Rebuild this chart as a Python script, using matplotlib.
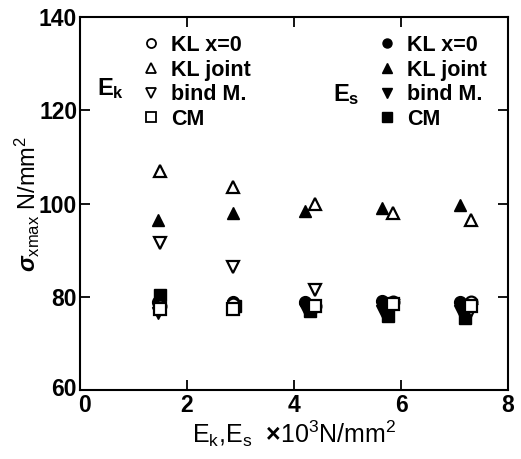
import matplotlib; matplotlib.use("Agg")
import numpy as np, matplotlib.pyplot as plt
import matplotlib.transforms as mtransforms
from matplotlib.lines import Line2D

plt.rcParams["font.family"] = ["Liberation Sans", "DejaVu Sans"]
plt.rcParams["font.weight"] = "bold"
plt.rcParams["mathtext.fontset"] = "custom"
plt.rcParams["mathtext.rm"] = "Liberation Sans:bold"
plt.rcParams["mathtext.it"] = "Liberation Sans:italic:bold"

# E_k series (open markers) and E_s series (filled markers)
xk = [1.5, 2.85, 4.4, 5.85, 7.3]
xs = [1.45, 2.85, 4.2, 5.65, 7.1]
xs_cm = [1.5, 2.9, 4.3, 5.75, 7.2]
k_x0 = [78.0, 78.5, 78.0, 79.0, 79.0]
k_joint = [107.0, 103.5, 100.0, 98.0, 96.5]
k_bind = [91.5, 86.5, 81.5, 78.0, 77.0]
k_cm = [77.5, 77.5, 78.0, 78.5, 78.0]
s_x0 = [79.0, 79.0, 79.0, 79.2, 78.8]
s_joint = [96.5, 98.0, 98.5, 99.0, 99.7]
s_bind = [76.5, 78.0, 77.5, 77.0, 77.0]
s_cm = [80.5, 78.0, 77.0, 76.0, 75.5]
labels = ["KL x=0", "KL joint", "bind M.", "CM"]
markers = ["o", "^", "v", "s"]

fig = plt.figure(figsize=(5.21, 4.59), dpi=100)
ax = fig.add_axes([0.1536, 0.150, 0.8215, 0.813])

ms = 8.5
for y, m in zip([s_x0, s_joint, s_bind], markers[:3]):
    ax.plot(xs, y, m, color="k", ms=ms, ls="none")
ax.plot(xs_cm, s_cm, "s", color="k", ms=ms, ls="none")
for y, m in zip([k_x0, k_joint, k_bind, k_cm], markers):
    ax.plot(xk, y, m, mfc="white", mec="k", mew=1.6, ms=ms, ls="none")

ax.set_xlim(0, 8); ax.set_ylim(60, 140)
ax.set_xticks([0, 2, 4, 6, 8]); ax.set_yticks([60, 80, 100, 120, 140])
ax.tick_params(direction="in", length=7, width=1.3, labelsize=16.5, top=True, right=True, pad=2)
ax.tick_params(axis="x", pad=3)
for sp in ax.spines.values():
    sp.set_linewidth(1.5)
# nudge the "0" on x and "60" on y apart, as they nearly touch in the original
ax.get_xticklabels()[0].set_transform(ax.get_xticklabels()[0].get_transform()
                                      + mtransforms.ScaledTranslation(4 / 100, 0, fig.dpi_scale_trans))
ax.get_yticklabels()[0].set_transform(ax.get_yticklabels()[0].get_transform()
                                      + mtransforms.ScaledTranslation(-1 / 100, 3 / 100, fig.dpi_scale_trans))
ax.set_xlabel(r"E$_{\mathregular{k}}$,E$_{\mathregular{s}}$  $\times$10$^{\mathregular{3}}$N/mm$^{\mathregular{2}}$",
              fontsize=18, labelpad=1)
ax.set_ylabel(r"$\sigma$$_{\mathregular{xmax}}$ N/mm$^{\mathregular{2}}$", fontsize=17, labelpad=-2)

hk = [Line2D([], [], marker=m, mfc="white", mec="k", mew=1.3, ms=6.5, ls="none") for m in markers]
hs = [Line2D([], [], marker=m, color="k", ms=6.5, ls="none") for m in markers]
kw = dict(frameon=False, fontsize=15.5, labelspacing=0.17, handletextpad=0.45,
          handlelength=1.0, borderaxespad=0, loc="upper left")
leg1 = ax.legend(hk, labels, bbox_to_anchor=(0.12, 0.975), **kw)
ax.add_artist(leg1)
ax.legend(hs, labels, bbox_to_anchor=(0.672, 0.975), **kw)

ax.text(0.04, 0.79, r"E$_{\mathregular{k}}$", transform=ax.transAxes, fontsize=17)
ax.text(0.59, 0.775, r"E$_{\mathregular{s}}$", transform=ax.transAxes, fontsize=17)

fig.savefig("out.png", dpi=100)
